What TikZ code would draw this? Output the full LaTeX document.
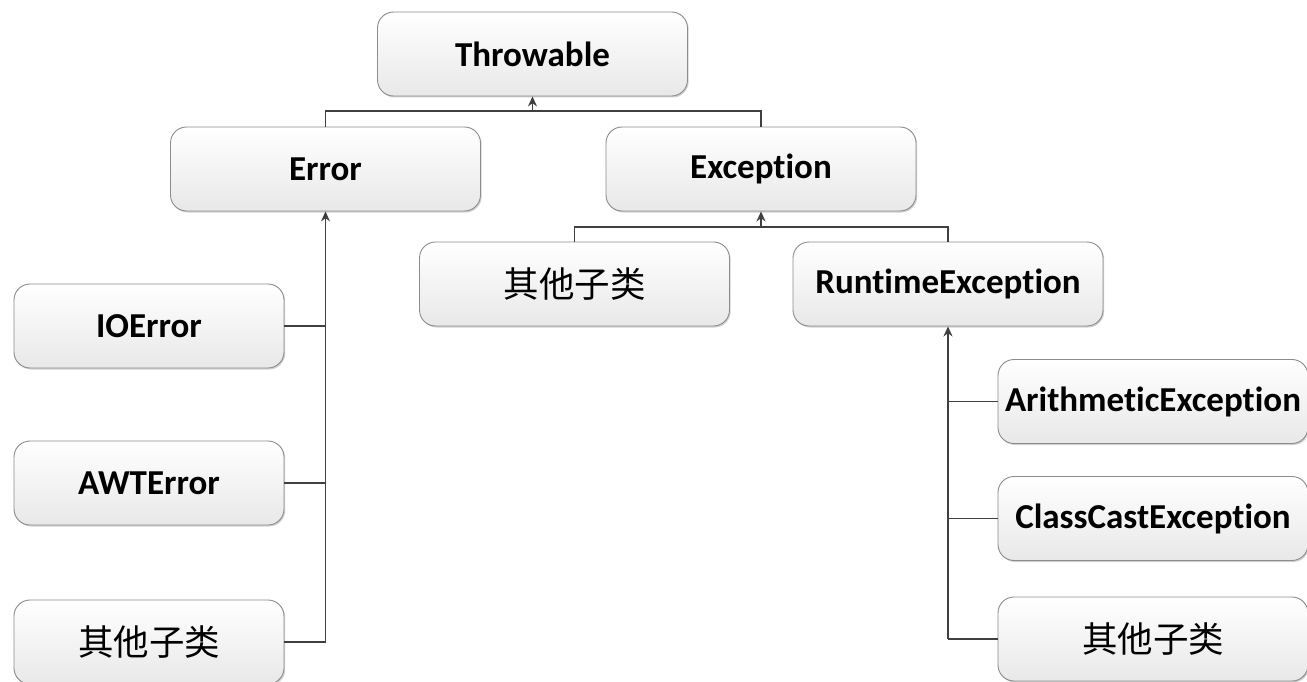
\documentclass[tikz,border=0pt]{standalone}
\usepackage{fontspec}
\setmainfont[Ligatures=NoCommon]{Carlito}
\newfontfamily\cjk{Noto Sans CJK SC}
\usetikzlibrary{arrows.meta,shadows}
\definecolor{boxline}{HTML}{8C8C8C}
\definecolor{conncol}{HTML}{404040}
\tikzset{
  cls/.style={draw=boxline, line width=0.9pt, rounded corners=16pt,
    top color=white, bottom color=black!9,
    drop shadow={shadow xshift=1.2pt, shadow yshift=-1.5pt, opacity=0.18, fill=black},
    minimum width=310pt, minimum height=84pt, inner sep=0pt,
    font=\bfseries\fontsize{35}{40}\selectfont, text=black},
  small/.style={cls, minimum width=270pt},
  zh/.style={font=\cjk\fontsize{35.5}{40}\selectfont},
  conn/.style={draw=conncol, line width=1.3pt},
  arr/.style={conn, -{Stealth[length=10pt,width=9pt]}}
}
\begin{document}
\begin{tikzpicture}[x=1pt,y=-1pt]
\useasboundingbox (0,0) rectangle (1307,682);
\fill[white] (0,0) rectangle (1307,682);
\node[cls] (thr) at (532.5,54) {Throwable};
\node[cls] (err) at (325.5,169) {Error};
\node[cls] (exc) at (761,169) {Exception};
\node[cls,zh] (oth1) at (574.5,284) {其他子类};
\node[cls] (rte) at (948,284) {RuntimeException};
\node[small] (ioe) at (149,326) {IOError};
\node[small] (awt) at (149,483) {AWTError};
\node[small,zh] (oth2) at (149,642) {其他子类};
\node[cls] (ari) at (1153,401.5) {ArithmeticException};
\node[cls] (cce) at (1153,518.5) {ClassCastException};
\node[cls,zh] (oth3) at (1153,639) {其他子类};
% Throwable children
\coordinate (b1) at (532.5,111);
\draw[conn] (err.north) |- (b1) -| (exc.north);
\draw[arr] (b1) -- (thr.south);
% Exception children
\coordinate (b2) at (761,227);
\draw[conn] (oth1.north) |- (b2) -| (rte.north);
\draw[arr] (b2) -- (exc.south);
% Error children
\coordinate (e1) at (err.south |- oth2.east);
\draw[conn] (ioe.east) -| (e1);
\draw[conn] (awt.east) -| (e1);
\draw[conn] (oth2.east) -- (e1);
\draw[arr] (e1) -- (err.south);
% RuntimeException children
\coordinate (r1) at (rte.south |- oth3.west);
\draw[conn] (ari.west) -| (r1);
\draw[conn] (cce.west) -| (r1);
\draw[conn] (oth3.west) -- (r1);
\draw[arr] (r1) -- (rte.south);
\end{tikzpicture}
\end{document}
